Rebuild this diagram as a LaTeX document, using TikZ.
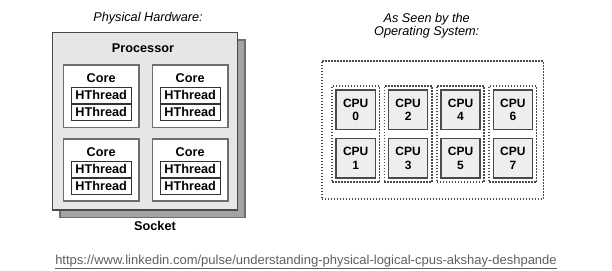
\documentclass[tikz,border=0pt]{standalone}
\usepackage{fontspec}
\setmainfont{Liberation Sans}
\usepackage{tikz}
\usetikzlibrary{positioning, fit}
\usepackage{xcolor}
\definecolor{EdgeDark}{HTML}{4A4A4A}
\definecolor{EdgeMid}{HTML}{6E6E6E}
\definecolor{ProcFill}{HTML}{E6E6E6}
\definecolor{ShadowFill}{HTML}{A3A3A3}
\definecolor{CpuFill}{HTML}{EEEEEE}
\definecolor{LinkGray}{HTML}{5F5F5F}
\newcommand{\lblfont}{\fontsize{12.7}{14}\selectfont}
\tikzset{
  procbox/.style={draw=EdgeDark, line width=1.5pt, fill=ProcFill,
    minimum width=185pt, minimum height=177.7pt, inner sep=0pt},
  shadowbox/.style={procbox, draw=EdgeMid, fill=ShadowFill},
  corebox/.style={draw=EdgeMid, line width=1.6pt, fill=white,
    minimum width=75.7pt, minimum height=62.3pt, inner sep=0pt},
  htbox/.style={draw=black!80, line width=1.2pt, fill=white,
    minimum width=60pt, minimum height=15.7pt, inner sep=0pt,
    font=\lblfont\bfseries},
  boldlbl/.style={inner sep=0pt, font=\lblfont\bfseries},
  heading/.style={inner sep=0pt, align=center, font=\lblfont\itshape},
  cpubox/.style={draw=EdgeDark, line width=1.4pt, fill=CpuFill,
    minimum width=39.3pt, minimum height=39.3pt, inner sep=0pt, align=center,
    font=\fontsize{12}{13.5}\selectfont\bfseries},
  dotbox/.style={draw=EdgeDark, line width=1.6pt,
    dash pattern=on 1.6pt off 1.4pt},
  grpbox/.style={dotbox, inner sep=3.4pt},
}

\begin{document}
\begin{tikzpicture}[x=1pt, y=-1pt]
  \useasboundingbox (0,0) rectangle (612,270);

  % physical side: socket with processor and cores
  \node[heading] (hwtitle) at (148,18) {Physical Hardware:};
  \node[shadowbox] (socket) at (152.3,128.7) {};
  \node[procbox] (proc) at (144.8,121.2) {};
  \node[boldlbl] (proclbl) at (143,48) {Processor};
  \node[boldlbl] (socklbl) at (155,226) {Socket};

  \node[corebox] (core1) at (101.2,96.2) {};
  \node[corebox, right=11.7pt of core1] (core2) {};
  \node[corebox, below=10pt of core1] (core3) {};
  \node[corebox, right=11.7pt of core3] (core4) {};

  \node[boldlbl] at ([yshift=-14pt]core1.north) {Core};
  \node[htbox] (ht1a) at ([yshift=-31.2pt]core1.north) {HThread};
  \node[htbox, below=0pt of ht1a] (ht1b) {HThread};

  \node[boldlbl] at ([yshift=-14pt]core2.north) {Core};
  \node[htbox] (ht2a) at ([yshift=-31.2pt]core2.north) {HThread};
  \node[htbox, below=0pt of ht2a] (ht2b) {HThread};

  \node[boldlbl] at ([yshift=-14pt]core3.north) {Core};
  \node[htbox] (ht3a) at ([yshift=-31.2pt]core3.north) {HThread};
  \node[htbox, below=0pt of ht3a] (ht3b) {HThread};

  \node[boldlbl] at ([yshift=-14pt]core4.north) {Core};
  \node[htbox] (ht4a) at ([yshift=-31.2pt]core4.north) {HThread};
  \node[htbox, below=0pt of ht4a] (ht4b) {HThread};

  % logical side: what the OS sees
  \node[heading] (ostitle) at (426.7,25.8) {As Seen by the\\[-1.5pt]Operating System:};
  \node[dotbox, minimum width=221.6pt, minimum height=138pt] (os) at (432.5,130) {};

  \node[cpubox] (cpu0) at (355.7,109.7) {CPU\\0};
  \node[cpubox, below=8pt of cpu0] (cpu1) {CPU\\1};
  \node[cpubox, right=11.7pt of cpu0] (cpu2) {CPU\\2};
  \node[cpubox, below=8pt of cpu2] (cpu3) {CPU\\3};
  \node[cpubox, right=11.7pt of cpu2] (cpu4) {CPU\\4};
  \node[cpubox, below=8pt of cpu4] (cpu5) {CPU\\5};
  \node[cpubox, right=11.7pt of cpu4] (cpu6) {CPU\\6};
  \node[cpubox, below=8pt of cpu6] (cpu7) {CPU\\7};

  \node[grpbox, fit=(cpu0)(cpu1)] (grp0) {};
  \node[grpbox, fit=(cpu2)(cpu3)] (grp1) {};
  \node[grpbox, fit=(cpu4)(cpu5)] (grp2) {};
  \node[grpbox, fit=(cpu6)(cpu7)] (grp3) {};

  % source link
  \node[inner sep=0pt, text=LinkGray, font=\fontsize{13}{15}\selectfont] (src) at (306,262)
    {\underline{https://www.linkedin.com/pulse/understanding-physical-logical-cpus-akshay-deshpande}};
\end{tikzpicture}
\end{document}
